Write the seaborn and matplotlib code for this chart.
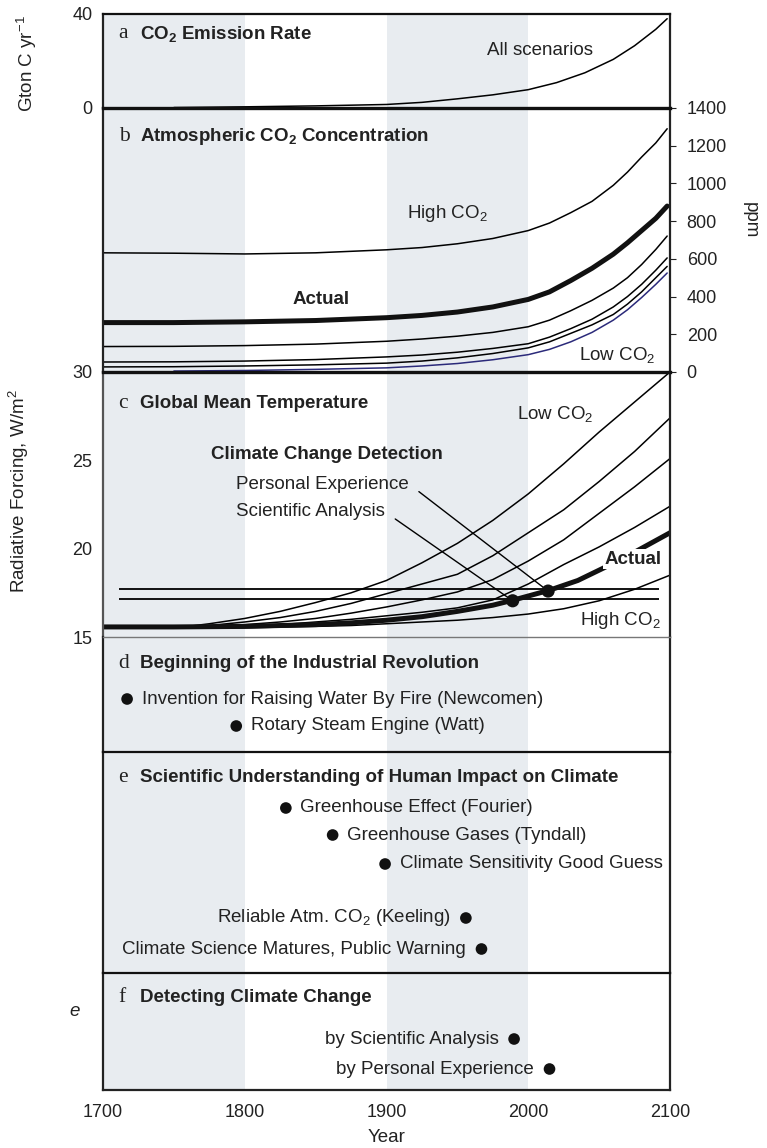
import numpy as np
import pandas as pd
import matplotlib
matplotlib.use('Agg')
import matplotlib.pyplot as plt
import seaborn as sns

sns.set_style('white')
plt.rcParams['font.family'] = ['Liberation Sans', 'DejaVu Sans']
plt.rcParams['mathtext.fontset'] = 'custom'
plt.rcParams['mathtext.rm'] = 'Liberation Sans'
plt.rcParams['mathtext.bf'] = 'Liberation Sans:bold'
plt.rcParams['mathtext.it'] = 'Liberation Sans:italic'

# a: CO2 emission rate (Gton C / yr)
emis_years = [1750, 1800, 1850, 1900, 1925, 1950, 1975, 2000, 2020, 2040, 2060, 2075, 2090, 2098]
emis_vals = [0.2, 0.5, 0.9, 1.5, 2.4, 3.9, 5.6, 7.8, 10.8, 15.0, 20.7, 26.5, 33.5, 38.0]

# b: atmospheric CO2 (ppm)
conc_years = [1700, 1750, 1800, 1850, 1900, 1925, 1950, 1975, 2000, 2015, 2030, 2045,
              2060, 2070, 2080, 2090, 2098]
conc_high = [632, 630, 626, 632, 648, 660, 680, 708, 750, 790, 845, 905,
             990, 1060, 1140, 1215, 1290]
conc_actual = [262, 262, 266, 273, 288, 300, 318, 345, 385, 425, 485, 550,
               625, 685, 750, 815, 880]
conc_mid1 = [135, 136, 140, 148, 163, 175, 190, 210, 240, 275, 325, 380,
             445, 500, 570, 650, 721]
conc_mid2 = [53, 54, 58, 66, 80, 90, 105, 125, 150, 185, 230, 280,
             345, 400, 465, 540, 605]
conc_mid3 = [27, 28, 32, 38, 47, 58, 75, 98, 128, 160, 205, 250,
             305, 360, 425, 500, 560]
conc_low_years = [1750, 1800, 1850, 1900, 1925, 1950, 1975, 2000, 2015, 2030, 2045,
                  2060, 2070, 2080, 2090, 2098]
conc_low = [5, 8, 14, 22, 32, 45, 65, 92, 120, 160, 210, 275, 330, 395, 465, 525]

# c: global mean temperature / radiative forcing
temp_years = [1750, 1775, 1800, 1825, 1850, 1875, 1900, 1925, 1950, 1975, 2000, 2025, 2050, 2075, 2100]
temp_low = [15.5, 15.75, 16.05, 16.45, 16.95, 17.5, 18.2, 19.2, 20.3, 21.6, 23.1, 24.8, 26.6, 28.3, 30.0]
temp_mid1 = [15.5, 15.65, 15.85, 16.1, 16.45, 16.9, 17.45, 18.0, 18.55, 19.6, 20.9, 22.2, 23.8, 25.5, 27.4]
temp_mid2 = [15.5, 15.6, 15.7, 15.85, 16.05, 16.35, 16.7, 17.1, 17.55, 18.25, 19.3, 20.5, 22.0, 23.5, 25.1]
temp_mid3 = [15.5, 15.55, 15.6, 15.7, 15.85, 16.0, 16.2, 16.4, 16.65, 17.1, 18.0, 19.1, 20.1, 21.2, 22.4]
temp_high = [15.5, 15.51, 15.52, 15.56, 15.6, 15.65, 15.75, 15.85, 15.95, 16.1, 16.3, 16.6, 17.05, 17.7, 18.5]
temp_actual_years = [1700, 1750, 1800, 1850, 1875, 1900, 1925, 1950, 1975, 1990, 2015, 2035, 2053, 2075, 2100]
temp_actual = [15.57, 15.57, 15.6, 15.7, 15.8, 15.95, 16.15, 16.45, 16.8, 17.1, 17.65, 18.2, 18.9, 19.8, 20.9]
detect_levels = [17.14, 17.73]
detect_names = ['Scientific Analysis', 'Personal Experience']
detect_years = [1989, 2014]
detect_temps = [17.05, 17.6]

# d, e, f: events
industrial_years = [1717, 1794]
industrial_labels = ['Invention for Raising Water By Fire (Newcomen)', 'Rotary Steam Engine (Watt)']
science_years = [1829, 1862, 1899, 1956, 1967]
science_labels = ['Greenhouse Effect (Fourier)', 'Greenhouse Gases (Tyndall)',
                  'Climate Sensitivity Good Guess', 'Reliable Atm. CO$_2$ (Keeling)',
                  'Climate Science Matures, Public Warning']
detection_years = [1990, 2015]
detection_labels = ['by Scientific Analysis', 'by Personal Experience']

W, H = 767, 1148
fig = plt.figure(figsize=(W / 100, H / 100), dpi=100)
L, R = 103, 670
edges = [14, 108, 372, 637, 752, 973, 1090]
axes = []
for i in range(6):
    t, b = edges[i], edges[i + 1]
    ax = fig.add_axes([L / W, 1 - b / H, (R - L) / W, (b - t) / H])
    ax.set_xlim(1700, 2100)
    ax.axvspan(1700, 1800, color='#e8ecf0', lw=0, zorder=0)
    ax.axvspan(1900, 2000, color='#e8ecf0', lw=0, zorder=0)
    ax.set_xticks([])
    ax.set_yticks([])
    for s in ['left', 'right']:
        ax.spines[s].set_color('#222222')
        ax.spines[s].set_linewidth(1.6)
    ax.spines['bottom'].set_visible(False)
    ax.spines['top'].set_color('#111111')
    ax.spines['top'].set_linewidth(1.6)
    ax.tick_params(colors='#222222', labelsize=13, length=4, width=0.8, direction='out')
    axes.append(ax)
ax_a, ax_b, ax_c, ax_d, ax_e, ax_f = axes
ax_b.spines['top'].set_linewidth(2.4)
ax_c.spines['top'].set_linewidth(2.4)
ax_c.spines['left'].set_color('#555555')
ax_d.spines['top'].set_color('#777777')
ax_d.spines['top'].set_linewidth(1.0)
ax_f.spines['bottom'].set_visible(True)
ax_f.spines['bottom'].set_color('#222222')
ax_f.spines['bottom'].set_linewidth(1.6)

FS = 13.5
letter_kw = dict(family='Liberation Serif', fontsize=15.5, va='center', ha='left', color='#222222')
title_kw = dict(fontsize=FS, fontweight='bold', va='center', ha='left', color='#222222')
txt_kw = dict(fontsize=FS, color='#222222')

# ---- a
sns.lineplot(x=emis_years, y=emis_vals, ax=ax_a, color='black', lw=1.1)
ax_a.set_ylim(0, 40)
ax_a.set_yticks([0, 10, 20, 30, 40])
ax_a.set_yticklabels(['0', '', '', '', '40'])
ax_a.text(1711, 31.5, 'a', **letter_kw)
ax_a.text(1726, 31.5, r'CO$_\mathbf{2}$ Emission Rate', **title_kw)
ax_a.text(2008, 24.5, 'All scenarios', ha='center', va='center', **txt_kw)
fig.text(27 / W, 1 - 64 / H, 'Gton C yr$^{-1}$', rotation=90, ha='center', va='center', **txt_kw)

# ---- b
sns.lineplot(x=conc_years, y=conc_high, ax=ax_b, color='black', lw=1.1)
sns.lineplot(x=conc_years, y=conc_actual, ax=ax_b, color='#111111', lw=3.6)
for vals in [conc_mid1, conc_mid2, conc_mid3]:
    sns.lineplot(x=conc_years, y=vals, ax=ax_b, color='black', lw=1.1)
sns.lineplot(x=conc_low_years, y=conc_low, ax=ax_b, color='#2b2a7a', lw=1.1)
ax_b.set_ylim(0, 1400)
ax_b.yaxis.tick_right()
ax_b.set_yticks(range(0, 1401, 200))
ax_b.tick_params(axis='y', pad=8)
ax_b.text(1711, 1250, 'b', **letter_kw)
ax_b.text(1726, 1250, r'Atmospheric CO$_\mathbf{2}$ Concentration', **title_kw)
ax_b.text(1943, 843, 'High CO$_2$', ha='center', va='center', **txt_kw)
ax_b.text(1854, 384, 'Actual', ha='center', va='center', fontweight='bold', fontsize=FS, color='#222222')
ax_b.text(2063, 92, 'Low CO$_2$', ha='center', va='center', **txt_kw)
fig.text(750 / W, 1 - 220 / H, 'ppm', rotation=270, ha='center', va='center', **txt_kw)

# ---- c
ax_c.set_ylim(15, 30)
for lev in detect_levels:
    ax_c.hlines(lev, 1711, 2092, color='black', lw=1.3, zorder=2)
for vals in [temp_low, temp_mid1, temp_mid2, temp_mid3, temp_high]:
    sns.lineplot(x=temp_years, y=vals, ax=ax_c, color='black', lw=1.1)
sns.lineplot(x=temp_actual_years, y=temp_actual, ax=ax_c, color='#111111', lw=3.6)
sns.scatterplot(x=detect_years, y=detect_temps, ax=ax_c, color='#111111', s=90,
                edgecolor='none', zorder=5)
ax_c.set_yticks([15, 20, 25, 30])
ax_c.text(1711, 28.2, 'c', **letter_kw)
ax_c.text(1726, 28.2, 'Global Mean Temperature', **title_kw)
ax_c.text(1776, 25.35, 'Climate Change Detection', **title_kw)
for k, ty in zip([1, 0], [23.66, 22.08]):
    ax_c.annotate(detect_names[k], xy=(detect_years[k], detect_temps[k]), xytext=(1794, ty),
                  ha='left', va='center',
                  arrowprops=dict(arrowstyle='-', color='black', lw=1.0,
                                  relpos=(1, 0.5), shrinkA=6, shrinkB=0),
                  **txt_kw)
ax_c.text(2019, 27.6, 'Low CO$_2$', ha='center', va='center', **txt_kw)
ax_c.text(2074, 19.4, 'Actual', ha='center', va='center', fontweight='bold', fontsize=FS,
          color='#222222', bbox=dict(facecolor='white', edgecolor='none', pad=1), zorder=6)
ax_c.text(2065, 15.95, 'High CO$_2$', ha='center', va='center', **txt_kw)
fig.text(19 / W, 1 - 491 / H, 'Radiative Forcing, W/m$^2$', rotation=90, ha='center',
         va='center', **txt_kw)

# ---- d, e, f (y measured in pixels from the panel top)
def event_panel(ax, letter, title, years, labels, rows, sides):
    height = ax.get_position().height * H
    ax.set_ylim(height, 0)
    ax.text(1711, rows[0], letter, **letter_kw)
    ax.text(1726, rows[0], title, **title_kw)
    sns.scatterplot(x=years, y=rows[1:], ax=ax, color='#111111', s=70, edgecolor='none', zorder=5)
    for yr, lab, row, side in zip(years, labels, rows[1:], sides):
        off = 10.5 if side == 'r' else -11
        ax.annotate(lab, xy=(yr, row), xytext=(off, 0), textcoords='offset points',
                    ha='left' if side == 'r' else 'right', va='center', **txt_kw)

event_panel(ax_d, 'd', 'Beginning of the Industrial Revolution', industrial_years,
            industrial_labels, [26, 62, 89], ['r', 'r'])
event_panel(ax_e, 'e', 'Scientific Understanding of Human Impact on Climate', science_years,
            science_labels, [26, 56, 83, 112, 166, 197], ['r', 'r', 'r', 'l', 'l'])
event_panel(ax_f, 'f', 'Detecting Climate Change', detection_years, detection_labels,
            [24, 66, 96], ['l', 'l'])

ax_f.set_xticks([1700, 1800, 1900, 2000, 2100])
ax_f.tick_params(axis='x', labelsize=13, length=4, pad=6)
fig.text(((L + R) / 2) / W, 1 - 1137 / H, 'Year', ha='center', va='center', **txt_kw)
fig.text(75 / W, 1 - 1012 / H, 'e', style='italic', ha='center', va='center', **txt_kw)

for ax in axes:
    ax.set_ylabel('')
    ax.set_xlabel('')

fig.savefig('out.png', dpi=100)
